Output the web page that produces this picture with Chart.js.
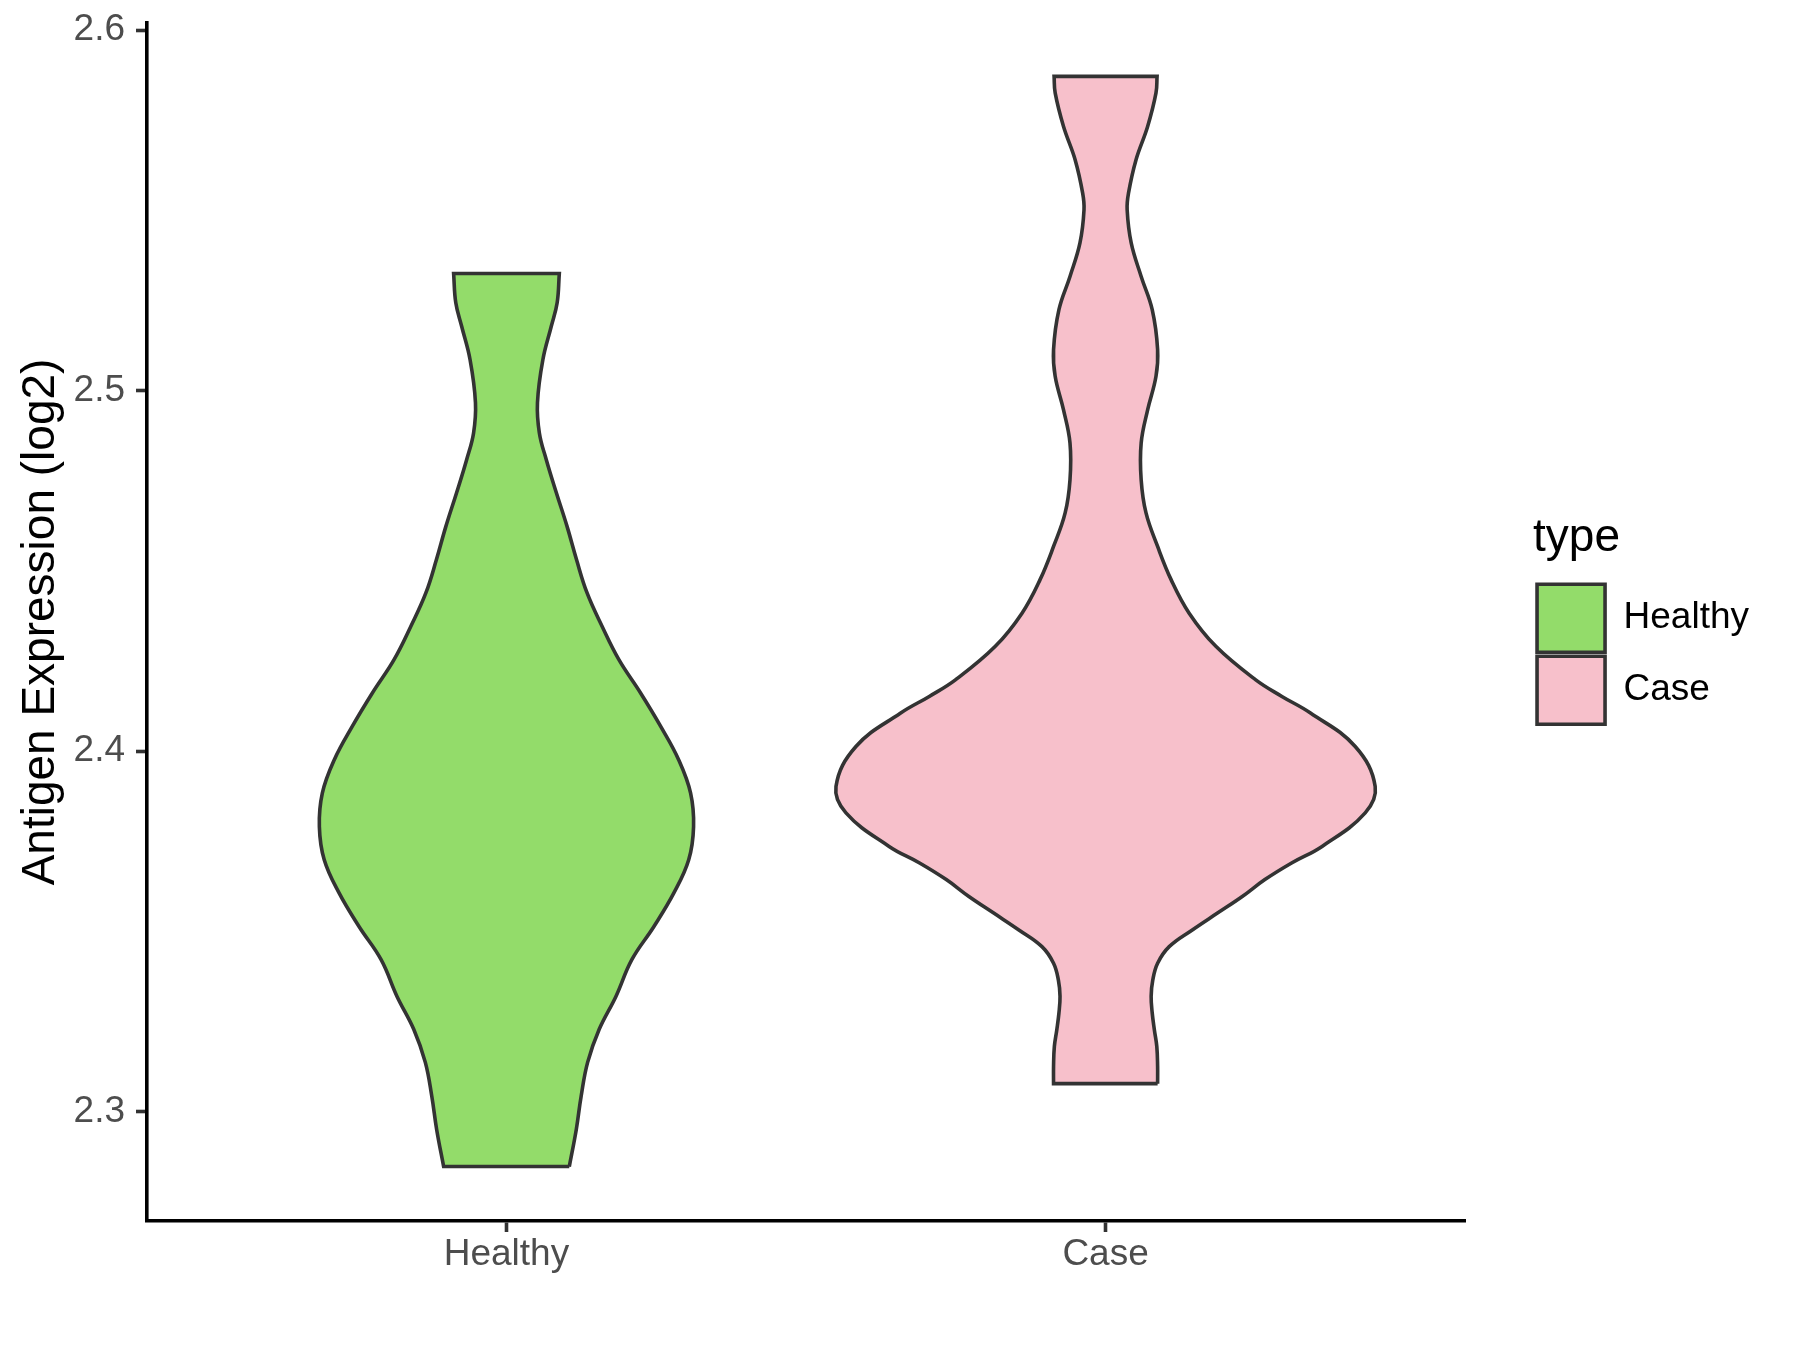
<!DOCTYPE html>
<html>
<head>
<meta charset="utf-8">
<script src="https://cdn.jsdelivr.net/npm/chart.js@4.4.1/dist/chart.umd.min.js"></script>
<style>
  html, body { margin: 0; padding: 0; background: #ffffff; }
  #wrap { width: 1800px; height: 1350px; }
</style>
</head>
<body>
<div id="wrap"><canvas id="chart" width="1800" height="1350"></canvas></div>
<script>
// categories on the x axis
var categories = ['Healthy', 'Case'];
var yTicks = [2.3, 2.4, 2.5, 2.6];

// violin outlines: expression level (log2) and relative density (widest = 1)
var healthyLevels = [2.2848, 2.2951, 2.3043, 2.3137, 2.3229, 2.3320, 2.3422, 2.3514, 2.3607, 2.3699,
  2.3791, 2.3884, 2.3976, 2.4069, 2.4161, 2.4254, 2.4346, 2.4439, 2.4531, 2.4623,
  2.4717, 2.4808, 2.4883, 2.4967, 2.5086, 2.5178, 2.5244, 2.5325];
var healthyDensity = [0.233, 0.259, 0.277, 0.301, 0.344, 0.406, 0.465, 0.547, 0.621, 0.676,
  0.694, 0.683, 0.639, 0.572, 0.498, 0.417, 0.355, 0.299, 0.260, 0.225,
  0.185, 0.148, 0.122, 0.115, 0.135, 0.166, 0.188, 0.196];

var caseLevels = [2.3078, 2.3126, 2.3181, 2.3227, 2.3274, 2.3320, 2.3365, 2.3412, 2.3458, 2.3505,
  2.3551, 2.3597, 2.3644, 2.3690, 2.3736, 2.3829, 2.3902, 2.4013, 2.4106, 2.4152,
  2.4198, 2.4291, 2.4383, 2.4476, 2.4568, 2.4661, 2.4753, 2.4855, 2.4947, 2.5040,
  2.5114, 2.5225, 2.5317, 2.5410, 2.5502, 2.5548, 2.5641, 2.5733, 2.5826, 2.5872];
var caseDensity = [0.193, 0.193, 0.190, 0.181, 0.173, 0.169, 0.175, 0.193, 0.236, 0.323,
  0.415, 0.507, 0.591, 0.690, 0.803, 0.963, 1.000, 0.926, 0.760, 0.654,
  0.557, 0.409, 0.310, 0.243, 0.193, 0.150, 0.132, 0.132, 0.156, 0.187,
  0.193, 0.173, 0.132, 0.095, 0.080, 0.085, 0.113, 0.156, 0.187, 0.191];

var fontFamily = "'Liberation Sans', Arial, Helvetica, sans-serif";
var violinWidth = 0.9;
var lineW = 3.6;

// closed outline: up the right side, across the top, down the left side, back along the bottom
function violinOutline(pos, levels, density) {
  var pts = [];
  var n = levels.length;
  var half = density.map(function(d) { return d * violinWidth / 2; });
  for (var i = 0; i < n; i++) pts.push({x: pos + half[i], y: levels[i]});
  pts.push({x: pos + half[n - 1], y: levels[n - 1]});
  pts.push({x: pos - half[n - 1], y: levels[n - 1]});
  for (var j = n - 1; j >= 0; j--) pts.push({x: pos - half[j], y: levels[j]});
  pts.push({x: pos - half[0], y: levels[0]});
  pts.push({x: pos + half[0], y: levels[0]});
  return pts;
}

var ctx = document.getElementById('chart').getContext('2d');

var chart = new Chart(ctx, {
  type: 'scatter',
  data: {
    datasets: [
      {
        label: categories[0],
        data: violinOutline(1, healthyLevels, healthyDensity),
        showLine: true,
        fill: 'shape',
        backgroundColor: '#93DC6A',
        borderColor: '#333333',
        borderWidth: lineW,
        tension: 0.4,
        pointRadius: 0,
        pointHoverRadius: 0,
        yAxisID: 'y'
      },
      {
        label: categories[1],
        data: violinOutline(2, caseLevels, caseDensity),
        showLine: true,
        fill: 'shape',
        backgroundColor: '#F7C0CB',
        borderColor: '#333333',
        borderWidth: lineW,
        tension: 0.4,
        pointRadius: 0,
        pointHoverRadius: 0,
        yAxisID: 'y'
      }
    ]
  },
  options: {
    responsive: false,
    animation: false,
    events: [],
    devicePixelRatio: 1,
    layout: { padding: { top: 23, right: 41, bottom: 0, left: 0 } },
    scales: {
      x: {
        type: 'linear',
        position: 'bottom',
        min: 0.4,
        max: 2.6,
        afterBuildTicks: function(scale) {
          scale.ticks = categories.map(function(c, i) { return {value: i + 1}; });
        },
        afterFit: function(scale) {
          scale.height = 129;
          scale.paddingLeft = 0;
          scale.paddingRight = 0;
        },
        ticks: {
          padding: 1,
          color: '#4D4D4D',
          font: { size: 37, family: fontFamily },
          maxRotation: 0,
          callback: function(v) { return categories[Math.round(v) - 1]; }
        },
        grid: { display: true, drawOnChartArea: false, drawTicks: true, tickLength: 11, tickWidth: lineW, tickColor: '#333333' },
        border: { display: true, color: '#000000', width: lineW }
      },
      y: {
        type: 'linear',
        position: 'left',
        min: 2.2697,
        max: 2.602,
        afterBuildTicks: function(scale) {
          scale.ticks = yTicks.map(function(v) { return {value: v}; });
        },
        afterFit: function(scale) {
          scale.width = 147;
          scale.paddingTop = 0;
          scale.paddingBottom = 0;
        },
        ticks: {
          padding: 11,
          color: '#4D4D4D',
          font: { size: 37, family: fontFamily },
          callback: function(v) { return v.toFixed(1); }
        },
        grid: { display: true, drawOnChartArea: false, drawTicks: true, tickLength: 11, tickWidth: lineW, tickColor: '#333333' },
        border: { display: true, color: '#000000', width: lineW },
        title: {
          display: true,
          text: 'Antigen Expression (log2)',
          color: '#000000',
          font: { size: 46, family: fontFamily },
          padding: { top: 14, bottom: 0 }
        }
      },
      // empty spacer between the panel and the legend
      gap: {
        type: 'linear',
        position: 'right',
        display: true,
        afterFit: function(scale) {
          scale.width = 68;
          scale.paddingTop = 0;
          scale.paddingBottom = 0;
        },
        ticks: { display: false },
        grid: { display: false },
        border: { display: false }
      }
    },
    plugins: {
      tooltip: { enabled: false },
      legend: {
        position: 'right',
        align: 'start',
        title: {
          display: true,
          text: 'type',
          position: 'start',
          color: '#000000',
          font: { size: 46, family: fontFamily },
          padding: { top: 492, bottom: 10 }
        },
        labels: {
          boxWidth: 68,
          boxHeight: 68,
          padding: 4,
          color: '#000000',
          font: { size: 37, family: fontFamily }
        }
      }
    }
  }
});
</script>
</body>
</html>
